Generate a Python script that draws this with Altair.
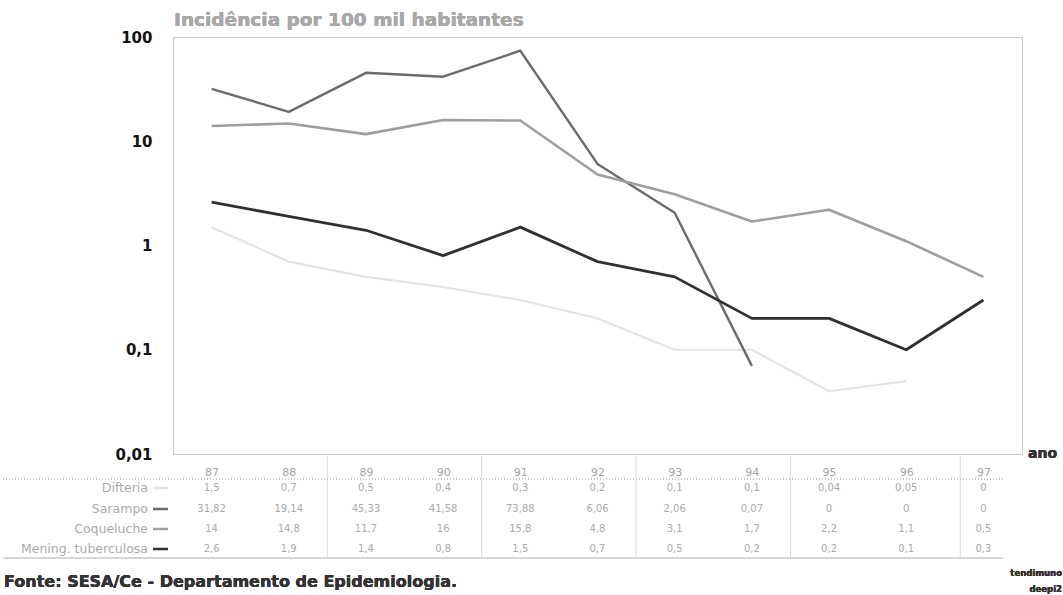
import altair as alt
import pandas as pd

# Incidence per 100 thousand inhabitants, Ceará, 1987-1997
years = [87, 88, 89, 90, 91, 92, 93, 94, 95, 96, 97]
series_names = ["Difteria", "Sarampo", "Coqueluche", "Mening. tuberculosa"]
difteria = [1.5, 0.7, 0.5, 0.4, 0.3, 0.2, 0.1, 0.1, 0.04, 0.05, 0]
sarampo = [31.82, 19.14, 45.33, 41.58, 73.88, 6.06, 2.06, 0.07, 0, 0, 0]
coqueluche = [14, 14.8, 11.7, 16, 15.8, 4.8, 3.1, 1.7, 2.2, 1.1, 0.5]
meningite = [2.6, 1.9, 1.4, 0.8, 1.5, 0.7, 0.5, 0.2, 0.2, 0.1, 0.3]
y_ticks = [0.01, 0.1, 1, 10, 100]
table_dividers = [88.5, 90.5, 92.5, 94.5, 96.7]

line_colors = ["#e4e4e4", "#6c6c6c", "#9e9e9e", "#303030"]
line_widths = [2.2, 2.8, 2.2, 2.8]

W, H = 849, 417


def fmt(v):
    s = f"{v:g}"
    return s.replace(".", ",")


rows = []
for name, vals in zip(series_names, [difteria, sarampo, coqueluche, meningite]):
    for yr, v in zip(years, vals):
        rows.append({"serie": name, "ano": yr, "valor": v, "rotulo": fmt(v)})
df = pd.DataFrame(rows)

x_scale = alt.Scale(domain=[86.5, 97.5], nice=False, zero=False)
y_scale = alt.Scale(type="log", domain=[0.01, 100], nice=False)

x_enc = alt.X(
    "ano:Q",
    scale=x_scale,
    axis=alt.Axis(
        values=years, format="d", title=None, ticks=False, domain=False,
        grid=False, labelColor="#a4a4a4", labelFontSize=11,
        labelFont="DejaVu Sans", labelPadding=12,
    ),
)

lines = (
    alt.Chart(df)
    .transform_filter("datum.valor > 0")
    .mark_line(clip=False, strokeJoin="round", strokeCap="butt")
    .encode(
        x=x_enc,
        y=alt.Y(
            "valor:Q",
            scale=y_scale,
            axis=alt.Axis(
                values=y_ticks, title=None, ticks=False, domain=False,
                grid=False, labelFont="DejaVu Sans", labelFontSize=15,
                labelFontWeight="bold", labelColor="#111", labelPadding=21,
                labelExpr="replace(toString(datum.value), '.', ',')",
            ),
        ),
        color=alt.Color(
            "serie:N",
            scale=alt.Scale(domain=series_names, range=line_colors),
            legend=None,
        ),
        strokeWidth=alt.StrokeWidth(
            "serie:N",
            scale=alt.Scale(domain=series_names, range=line_widths),
            legend=None,
        ),
        order=alt.Order("ano:Q"),
    )
)

# data table under the plot
row_y = [34, 55, 75, 95]
table_layers = []
for name, ry in zip(series_names, row_y):
    table_layers.append(
        alt.Chart(df)
        .transform_filter(alt.datum.serie == name)
        .mark_text(font="DejaVu Sans", fontSize=10, color="#aaaaaa")
        .encode(x=alt.X("ano:Q", scale=x_scale), y=alt.value(H + ry), text="rotulo:N")
    )

labels_df = pd.DataFrame({"serie": series_names, "ry": [H + r for r in row_y]})
row_labels = (
    alt.Chart(labels_df)
    .mark_text(align="right", font="DejaVu Sans", fontSize=12.5, color="#aaaaaa", dx=-25)
    .encode(x=alt.value(0), y=alt.Y("ry:Q", scale=None), text="serie:N")
)
row_keys = (
    alt.Chart(labels_df)
    .mark_rule(strokeWidth=2.5)
    .encode(
        x=alt.value(-20),
        x2=alt.value(-5),
        y=alt.Y("ry:Q", scale=None),
        color=alt.Color(
            "serie:N",
            scale=alt.Scale(domain=series_names, range=line_colors),
            legend=None,
        ),
    )
)

header_rule = alt.Chart(labels_df).mark_rule(
    color="#c4c4c4", strokeDash=[1, 2], strokeWidth=1
).encode(x=alt.value(-170), x2=alt.value(830), y=alt.value(H + 25))
bottom_rule = alt.Chart(labels_df).mark_rule(color="#d4d4d4", strokeWidth=1).encode(
    x=alt.value(-170), x2=alt.value(830), y=alt.value(H + 104)
)
div_df = pd.DataFrame({"pos": table_dividers})
dividers = alt.Chart(div_df).mark_rule(color="#dcdcdc", strokeWidth=1).encode(
    x=alt.X("pos:Q", scale=x_scale), y=alt.value(H + 2), y2=alt.value(H + 104)
)

title_txt = alt.Chart(labels_df).mark_text(
    text="Incidência por 100 mil habitantes", align="left", baseline="middle",
    font="DejaVu Sans", fontSize=18.5, fontWeight="bold", color="#a8a8a8",
).encode(x=alt.value(1), y=alt.value(-17))

ano_txt = alt.Chart(labels_df).mark_text(
    text="ano", align="left", baseline="middle", font="DejaVu Sans",
    fontSize=14, fontWeight="bold", color="#333",
).encode(x=alt.value(855), y=alt.value(H))

fonte_txt = alt.Chart(labels_df).mark_text(
    text="Fonte: SESA/Ce - Departamento de Epidemiologia.", align="left",
    baseline="middle", font="DejaVu Sans", fontSize=16, fontWeight="bold",
    color="#333",
).encode(x=alt.value(-169), y=alt.value(H + 128))

sig1 = alt.Chart(labels_df).mark_text(
    text="tendimuno", align="right", baseline="middle", font="DejaVu Sans",
    fontSize=8.5, fontWeight="bold", color="#333",
).encode(x=alt.value(889), y=alt.value(H + 119))
sig2 = alt.Chart(labels_df).mark_text(
    text="deepi2", align="right", baseline="middle", font="DejaVu Sans",
    fontSize=8.5, fontWeight="bold", color="#333",
).encode(x=alt.value(889), y=alt.value(H + 135))

chart = (
    alt.layer(
        dividers, header_rule, bottom_rule, lines, *table_layers, row_labels,
        row_keys, title_txt, ano_txt, fonte_txt, sig1, sig2,
    )
    .resolve_scale(color="independent")
    .properties(
        width=W,
        height=H,
        padding={"left": 173, "top": 37, "right": 41, "bottom": 141},
        autosize=alt.AutoSizeParams(type="none"),
        background="white",
    )
    .configure_view(stroke="#c8c8c8", strokeWidth=1)
)

chart.save("out.html", embed_options={"renderer": "svg", "actions": False})
